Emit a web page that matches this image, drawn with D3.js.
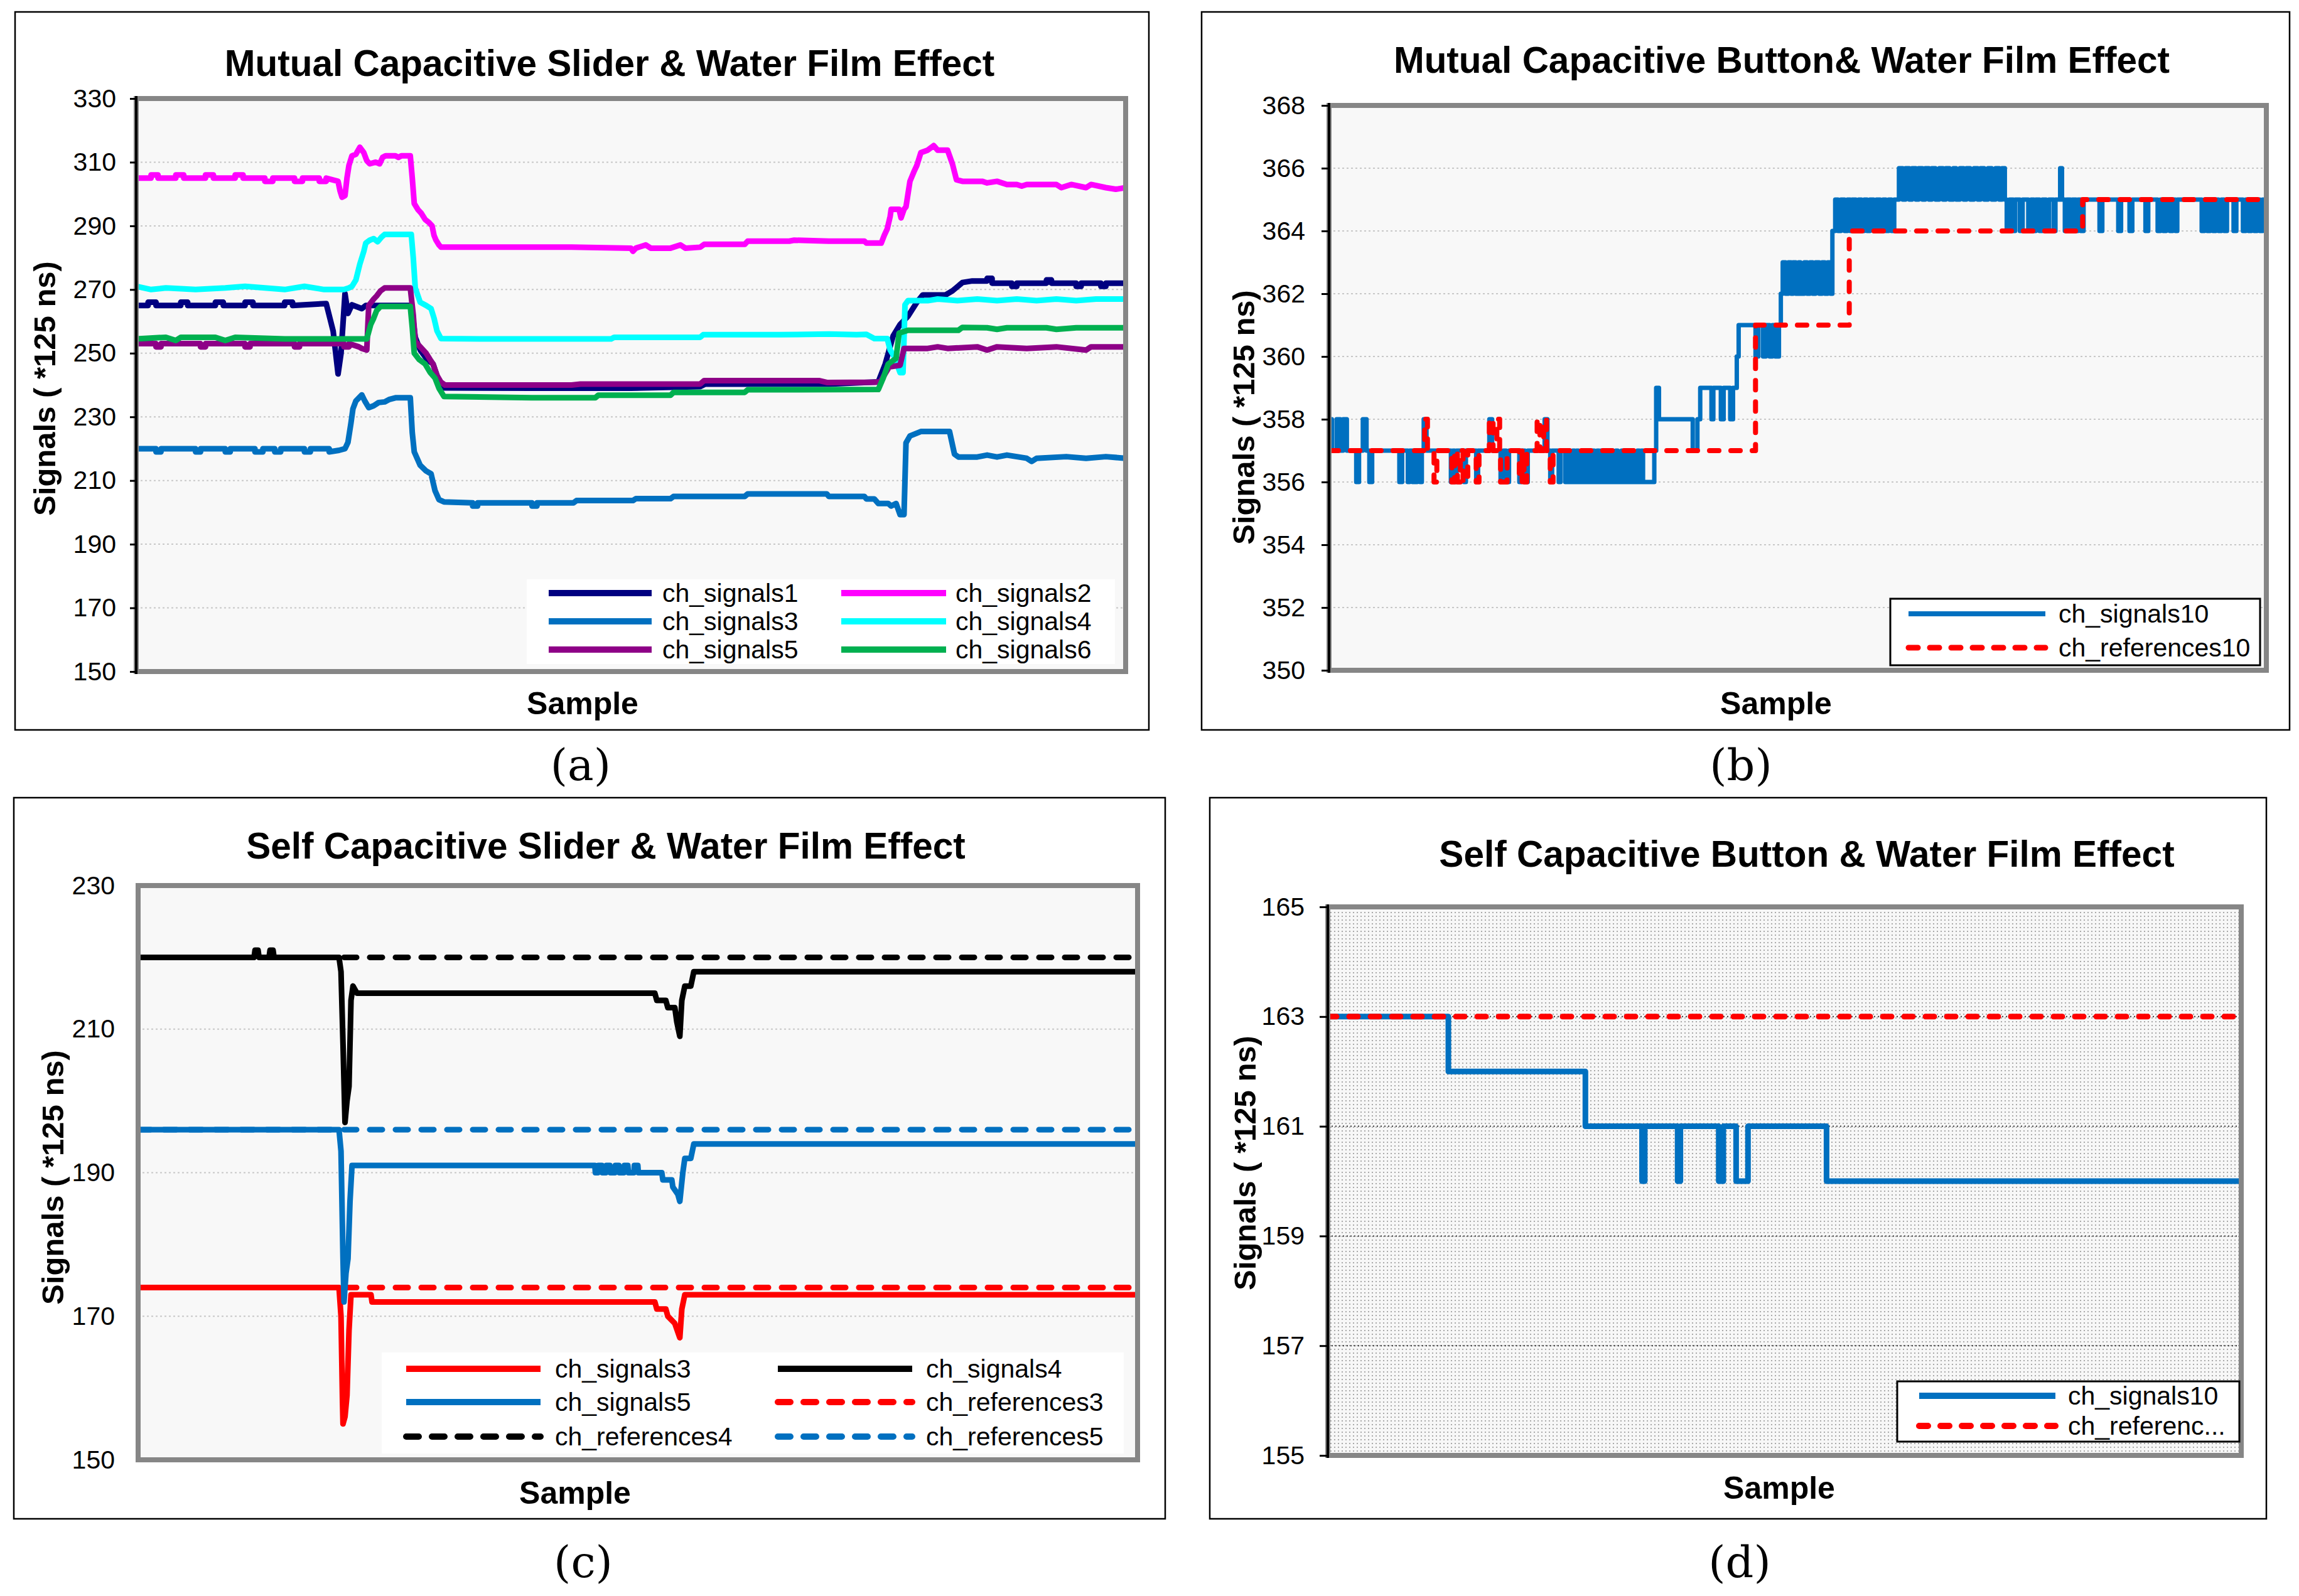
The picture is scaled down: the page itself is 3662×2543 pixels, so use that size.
<!DOCTYPE html>
<html><head><meta charset="utf-8">
<script src="https://cdn.jsdelivr.net/npm/d3@7/dist/d3.min.js"></script>
<style>body{margin:0;background:#fff}svg{display:block}</style>
</head><body>
<svg id="chart" width="3662" height="2543"></svg>
<script>
// ---------- Panel (a): Mutual Capacitive Slider ----------
const a_ticks = [150,170,190,210,230,250,270,290,310,330];
const a_signals1 = [[0,265],[12,265],[12,266],[20,266],[20,265],[45,265],[45,266],[52,266],[52,265],[80,265],[80,266],[88,266],[88,265],[110,265],[110,266],[118,266],[118,265],[150,265],[150,266],[158,266],[158,265],[192,265.6],[199,257],[204,243.5],[207,250],[211,268.7],[214,262.5],[218,265.2],[228,264],[232,265],[265,265],[278,265],[282,255],[287,251],[294,248],[300,246.6],[305,242],[308,239.1],[400,239],[500,239],[570,239.5],[575,240.3],[640,240.3],[700,240.3],[750,241],[757,246.6],[765,255.4],[772,259],[780,261.6],[789,266],[795,268.3],[818,268.3],[825,269.6],[835,272.2],[845,272.7],[860,272.7],[860,273.5],[865,273.5],[865,272],[885,272],[885,271],[890,271],[890,272],[920,272],[920,273],[925,273],[925,272],[950,272],[950,271],[955,271],[955,272],[975,272],[975,271],[980,271],[980,272],[1000,272]];
const a_signals2 = [[0,305],[15,305],[15,306],[22,306],[22,305],[40,305],[40,306],[48,306],[48,305],[70,305],[70,306],[78,306],[78,305],[100,305],[100,306],[108,306],[108,305],[130,305],[130,304],[138,304],[138,305],[160,305],[160,304],[168,304],[168,305],[185,305],[185,304],[192,304],[192,305],[204,304],[206,301],[208,299],[211,299.5],[213,305],[215,309],[218,312],[222,312.5],[226,314.7],[230,313],[233,310.5],[236,309.5],[242,310],[246,309.5],[249,311.5],[252,312],[262,312],[265,311.5],[268,312],[277,312],[279,305],[281,297],[285,295],[288,294],[292,292],[296,291],[299,290],[301,287],[303,285.5],[306,284],[308,283.3],[440,283.3],[500,283],[502,282],[505,283],[515,284],[520,283],[540,283],[550,284],[555,283],[570,283.3],[574,284.2],[615,284.2],[618,285.2],[660,285.2],[665,285.5],[700,285.2],[736,285.2],[738,284.6],[753,284.6],[756,287],[759,289],[762,293],[763,295.2],[771,295.2],[773,292.5],[776,295.2],[778,296],[782,304],[786,307],[789,309],[793,313],[800,313.8],[806,315.2],[810,313.8],[820,313.8],[825,309.4],[829,304.5],[835,304],[855,304],[860,303.5],[870,304],[880,303],[890,303],[895,302.5],[900,303],[930,303],[935,302],[945,303],[960,302],[965,303],[980,302],[990,301.5],[1000,302]];
const a_signals3 = [[0,220],[20,220],[20,219],[25,219],[25,220],[60,220],[60,219],[65,219],[65,220],[90,220],[90,219],[95,219],[95,220],[120,220],[120,219],[128,219],[128,220],[140,220],[140,219],[146,219],[146,220],[170,220],[170,219],[176,219],[176,220],[195,220],[195,219],[205,219.5],[211,220],[214,222],[217,228],[219,232.5],[222,235],[228,236.9],[231,235],[235,232.9],[240,233.5],[245,234.5],[251,234.7],[256,235.5],[262,236],[277,236],[279,225],[281,219],[287,214.8],[293,213],[298,212.1],[302,206.8],[306,204],[311,203.3],[340,203],[340,202],[345,202],[345,203],[400,203],[400,202],[405,202],[405,203],[442,203],[445,203.7],[502,203.7],[505,204.3],[540,204.3],[543,205],[615,205],[618,205.8],[698,205.8],[700,205],[736,205],[738,204.2],[746,204.2],[750,202.8],[760,202.8],[763,202],[768,202.8],[772,199.3],[776,199.3],[778,221.8],[782,224],[793,225.4],[822,225.4],[827,218.3],[831,217.4],[850,217.4],[860,218],[870,217.4],[880,218],[900,217],[905,216],[910,217],[940,217.5],[960,217],[980,217.5],[1000,217]];
const a_signals4 = [[0,271],[15,270],[30,270.5],[60,270],[90,270.5],[110,271],[130,270.5],[150,270],[170,271],[190,270],[210,270],[215,270.5],[218,271],[222,273],[226,278],[230,282],[232,284.6],[236,285.5],[240,286],[244,285],[248,286.5],[251,287.3],[278,287.3],[280,280],[282,270.5],[287,266],[293,265],[298,264],[301,261],[304,257],[308,254.6],[350,254.5],[400,254.5],[480,254.5],[483,255],[570,255],[573,255.8],[650,255.8],[700,256],[728,255.8],[738,255.9],[746,254.6],[759,254.6],[762,251],[766,249],[772,243.9],[775,243.9],[777,265.2],[780,266.5],[800,266.5],[810,267],[830,266.5],[850,267],[870,266.5],[890,267],[910,266.5],[930,267],[950,266.5],[970,267],[1000,267]];
const a_signals5 = [[0,253],[20,253],[20,252],[25,252],[25,253],[65,253],[65,252],[70,252],[70,253],[110,253],[110,252],[115,252],[115,253],[160,253],[160,252],[165,252],[165,253],[210,253],[210,252],[215,252],[215,253],[225,252],[228,251.5],[233,251],[235,265],[240,267],[243,268],[247,269.6],[251,270.5],[277,270.5],[280,262],[282,253.7],[287,252],[293,250],[297,248],[300,246.6],[304,243],[308,240.9],[312,240],[440,240],[449,240.3],[570,240.3],[574,241.4],[690,241.4],[698,240.8],[746,240.9],[752,241],[761,245.7],[772,246.2],[776,251.5],[800,251.5],[810,252],[820,251.5],[850,252],[860,251],[870,252],[900,251.5],[930,252],[960,251],[965,252],[1000,252]];
const a_signals6 = [[0,254.5],[30,255],[40,254],[45,255],[80,255],[90,254],[100,255],[150,254.5],[200,254.5],[233,254.5],[237,259],[240,261],[243,263.4],[247,264.7],[277,264.7],[279,258],[281,250],[286,248],[292,246.6],[297,244],[302,242.2],[306,239],[311,236.4],[400,236],[464,236],[467,236.8],[540,236.8],[543,237.7],[615,237.7],[618,238.5],[750,238.6],[755,242.2],[760,246.6],[768,248.4],[771,256.3],[780,257.2],[831,257.2],[835,258.1],[860,258],[870,257.5],[880,258],[920,258],[930,257.5],[950,258],[1000,258]];

// ---------- Panel (b): Mutual Capacitive Button ----------
const b_ticks = [350,352,354,356,358,360,362,364,366,368];
const b_signals10 = [[0,358],[3,357],[8,358],[12,357],[15,358],[19,357],[29,356],[32,357],[36,358],[40,357],[43,356],[46,357],[75,356],[78,357],[84,356],[86,357],[89,356],[91,357],[92,356],[94,357],[97,356],[99,357],[101,358],[104,357],[130,356],[132,357],[134,356],[136,357],[144,356],[146,357],[157,356],[159,357],[171,358],[174,357],[183,356],[186,357],[189,356],[192,357],[203,356],[205,357],[209,356],[212,357],[230,358],[233,357],[236,356],[238,357],[245,356],[247,357],[252,356],[255,357],[257,356],[260,357],[262,356],[264,357],[266,356],[270,357],[272,356],[275,357],[277,356],[281,357],[283,356],[286,357],[288,356],[290,357],[292,356],[296,357],[298,356],[301,357],[303,356],[306,357],[308,356],[312,357],[314,356],[318,357],[320,356],[323,357],[325,356],[329,357],[331,356],[333,357],[335,356],[347,357],[349,359],[352,358],[388,357],[393,358],[396,359],[408,358],[410,359],[418,358],[421,359],[428,358],[431,359],[435,360],[437,361],[455,360],[458,361],[463,360],[466,361],[470,360],[473,361],[476,360],[480,361],[482,362],[484,363],[487,362],[490,363],[493,362],[495,363],[498,362],[501,363],[503,362],[507,363],[510,362],[513,363],[516,362],[519,363],[523,362],[526,363],[529,362],[532,363],[535,362],[537,364],[540,365],[543,364],[546,365],[550,364],[553,365],[556,364],[558,365],[562,364],[565,365],[568,364],[571,365],[574,364],[577,365],[581,364],[584,365],[588,364],[591,365],[594,364],[597,365],[600,364],[603,365],[608,366],[612,365],[615,366],[619,365],[622,366],[626,365],[629,366],[633,365],[636,366],[640,365],[643,366],[647,365],[651,366],[655,365],[658,366],[662,365],[666,366],[669,365],[673,366],[677,365],[680,366],[684,365],[688,366],[692,365],[695,366],[699,365],[703,366],[707,365],[711,366],[715,365],[718,366],[721,365],[723,364],[726,365],[730,364],[732,365],[737,364],[740,365],[746,364],[749,365],[752,364],[754,365],[758,364],[761,365],[765,364],[768,365],[773,364],[775,365],[780,366],[782,365],[785,364],[787,365],[791,364],[793,365],[797,364],[799,365],[802,364],[805,365],[822,364],[825,365],[842,364],[845,365],[854,364],[857,365],[871,364],[874,365],[884,364],[887,365],[890,364],[893,365],[897,364],[900,365],[903,364],[905,365],[931,364],[934,365],[937,364],[940,365],[943,364],[946,365],[949,364],[952,365],[955,364],[958,365],[965,364],[968,365],[975,364],[978,365],[981,364],[984,365],[987,364],[990,365],[993,364],[996,365],[1000,364]];
const b_references10 = [[0,357],[102,358],[105,357],[112,356],[115,357],[131,356],[134,357],[137,356],[140,357],[143,356],[148,357],[157,356],[160,357],[171,358],[175,357],[179,358],[182,357],[183,356],[190,357],[203,356],[206,357],[208,356],[211,357],[222,358],[225,357],[229,358],[232,357],[236,356],[239,357],[455,361],[555,364],[804,365],[1000,365]];

// ---------- Panel (c): Self Capacitive Slider ----------
const c_ticks = [150,170,190,210,230];
const c_signals3 = [[0,174],[201,174],[203,170],[204.5,158],[205,155],[207,156],[209,159],[211,168],[213,173],[215,173],[233,173],[234,172],[517,172],[519,171],[528,171],[530,170],[537,169],[542,167],[544,171],[547,173],[1000,173]];
const c_signals4 = [[0,220],[116,220],[117,221],[120,221],[121,220],[131,220],[132,221],[135,221],[136,220],[201,220],[203,218],[205,208],[207,197],[209,200],[211,202],[213,214],[215,216],[217,215.5],[219,215],[517,215],[519,214],[528,214],[530,213],[537,213],[539,211],[542,209],[544,214],[547,216],[553,216],[556,218],[1000,218]];
const c_signals5 = [[0,196],[201,196],[203,193],[205,178],[206,172],[208,176],[210,178],[212,186],[214,191],[457,191],[457.5,190],[460,190],[460.5,191],[464,191],[464.5,190],[468,190],[468.5,191],[472,191],[472.5,190],[477,190],[477.5,191],[481,191],[481.5,190],[486,190],[486.5,191],[490,191],[490.5,190],[496,190],[496.5,191],[500,191],[500.5,190],[524,190],[525,189],[534,189],[535,188],[540,187],[542,186],[545,190],[547,192],[553,192],[556,194],[1000,194]];
const c_references3 = [[0,174],[1000,174]];
const c_references4 = [[0,220],[1000,220]];
const c_references5 = [[0,196],[1000,196]];

// ---------- Panel (d): Self Capacitive Button ----------
const d_ticks = [155,157,159,161,163,165];
const d_signals10 = [[0,163],[132,162],[282,161],[344,160],[347,161],[383,160],[386,161],[428,160],[433,161],[447,160],[460,161],[546,160],[1000,160]];
const d_references10 = [[0,163],[1000,163]];

const svg = d3.select("#chart");
const defs = svg.append("defs");
const pat = defs.append("pattern").attr("id","dots").attr("patternUnits","userSpaceOnUse").attr("width",6).attr("height",6);
pat.append("rect").attr("width",6).attr("height",6).attr("fill","#f7f7f7");
pat.append("rect").attr("x",1).attr("y",1).attr("width",2).attr("height",2).attr("fill","#a9a9a9");

const SANS = "'Liberation Sans', Arial, sans-serif";

function panel(p, idx) {
  const g = svg.append("g");
  const [bx0,by0,bx1,by1] = p.box;
  g.append("rect").attr("x",bx0).attr("y",by0).attr("width",bx1-bx0).attr("height",by1-by0)
    .attr("fill","#fff").attr("stroke","#000").attr("stroke-width",2.5);
  const [px0,py0,px1,py1] = p.plot;
  const x = d3.scaleLinear().domain([0,1000]).range([px0,px1]);
  const y = d3.scaleLinear().domain([p.ticks[0], p.ticks[p.ticks.length-1]]).range([py1,py0]);
  g.append("rect").attr("x",px0).attr("y",py0).attr("width",px1-px0).attr("height",py1-py0).attr("fill",p.bg);
  g.append("g").selectAll("line").data(p.ticks.slice(1,-1)).join("line")
    .attr("x1",px0).attr("x2",px1).attr("y1",d=>y(d)).attr("y2",d=>y(d))
    .attr("stroke",p.gridColor).attr("stroke-width",2).attr("stroke-dasharray",p.gridDash);
  const cid = "clip"+idx;
  defs.append("clipPath").attr("id",cid).append("rect").attr("x",px0).attr("y",py0).attr("width",px1-px0).attr("height",py1-py0);
  const sg = g.append("g").attr("clip-path",`url(#${cid})`);
  p.series.forEach(s=>{
    const line = d3.line().x(d=>x(d[0])).y(d=>y(d[1])).curve(p.curve);
    sg.append("path").attr("d",line(s.data)).attr("fill","none").attr("stroke",s.color)
      .attr("stroke-width",s.width).attr("stroke-dasharray",s.dash||null)
      .attr("stroke-linecap",s.dash?"round":"butt").attr("stroke-linejoin","round");
  });
  g.append("rect").attr("x",px0).attr("y",py0).attr("width",px1-px0).attr("height",py1-py0)
    .attr("fill","none").attr("stroke","#868686").attr("stroke-width",8);
  const ax = d3.axisLeft(y).tickValues(p.ticks).tickSize(p.tickSize).tickPadding(p.tickPad).tickFormat(d3.format("d"));
  const ag = g.append("g").attr("transform",`translate(${px0},0)`).call(ax);
  ag.select(".domain").remove();
  ag.selectAll(".tick line").attr("stroke","#000").attr("stroke-width",3);
  ag.selectAll(".tick text").attr("font-family",SANS).attr("font-size",41).attr("fill","#000");
  if (p.axisLine) {
    g.append("line").attr("x1",px0).attr("x2",px0).attr("y1",py0-4).attr("y2",py1+4).attr("stroke","#000").attr("stroke-width",4);
  }
  g.append("text").attr("x",p.title[1]).attr("y",p.title[2]).attr("text-anchor","middle")
    .attr("font-family",SANS).attr("font-weight","bold").attr("font-size",58.5).text(p.title[0]);
  g.append("text").attr("transform",`translate(${p.ytitle[0]},${p.ytitle[1]}) rotate(-90)`)
    .attr("text-anchor","middle").attr("dominant-baseline","central")
    .attr("font-family",SANS).attr("font-weight","bold").attr("font-size",49).text("Signals ( *125 ns)");
  g.append("text").attr("x",p.xtitle[0]).attr("y",p.xtitle[1]).attr("text-anchor","middle")
    .attr("font-family",SANS).attr("font-weight","bold").attr("font-size",50).text("Sample");
  g.append("text").attr("x",p.label[1]).attr("y",p.label[2]).attr("text-anchor","middle")
    .attr("font-family","'DejaVu Serif','Liberation Serif',serif").attr("font-size",70).text(p.label[0]);
  const L = p.legend;
  g.append("rect").attr("x",L.box[0]).attr("y",L.box[1]).attr("width",L.box[2]-L.box[0]).attr("height",L.box[3]-L.box[1])
    .attr("fill","#fff").attr("stroke",L.border?"#000":"none").attr("stroke-width",3);
  L.items.forEach((it,i)=>{
    const col = i % L.cols, row = Math.floor(i / L.cols);
    const lx = L.lineX[col], ly = L.rows[row];
    const s = p.series[it];
    g.append("line").attr("x1",lx[0]).attr("x2",lx[1]).attr("y1",ly).attr("y2",ly)
      .attr("stroke",s.color).attr("stroke-width",s.width+1).attr("stroke-dasharray",s.dash||null)
      .attr("stroke-linecap",s.dash?"round":"butt");
    g.append("text").attr("x",L.textX[col]).attr("y",ly).attr("dominant-baseline","central")
      .attr("font-family",SANS).attr("font-size",41).text(L.names ? L.names[i] : s.name);
  });
}

panel({
  box:[24,19,1830,1163], plot:[217,157,1793,1070], ticks:a_ticks, bg:"#f8f8f8",
  gridColor:"#c8c8c8", gridDash:"3,4", curve:d3.curveLinear, tickSize:10, tickPad:22, axisLine:true,
  title:["Mutual Capacitive Slider & Water Film Effect",971,121], ytitle:[71,619], xtitle:[928,1138], label:["(a)",925,1243],
  series:[
    {name:"ch_signals1",data:a_signals1,color:"#000080",width:9},
    {name:"ch_signals2",data:a_signals2,color:"#ff00ff",width:9},
    {name:"ch_signals3",data:a_signals3,color:"#0070c0",width:9},
    {name:"ch_signals4",data:a_signals4,color:"#00ffff",width:9},
    {name:"ch_signals5",data:a_signals5,color:"#8e0087",width:9},
    {name:"ch_signals6",data:a_signals6,color:"#00b050",width:9}
  ],
  legend:{box:[839,923,1776,1058],border:false,cols:2,lineX:[[874,1038],[1340,1507]],textX:[1055,1522],rows:[945,990,1035],items:[0,1,2,3,4,5]}
},0);

panel({
  box:[1914,19,3647,1163], plot:[2117,168,3610,1068], ticks:b_ticks, bg:"#f8f8f8",
  gridColor:"#c8c8c8", gridDash:"3,4", curve:d3.curveStepAfter, tickSize:12, tickPad:26, axisLine:true,
  title:["Mutual Capacitive Button& Water Film Effect",2838,116], ytitle:[1981,665], xtitle:[2829,1138], label:["(b)",2773,1243],
  series:[
    {name:"ch_signals10",data:b_signals10,color:"#0070c0",width:7},
    {name:"ch_references10",data:b_references10,color:"#ff0000",width:8,dash:"15,19"}
  ],
  legend:{box:[3011,954,3600,1060],border:true,cols:1,lineX:[[3040,3258]],textX:[3279],rows:[978,1032],items:[0,1]}
},1);

panel({
  box:[22,1271,1856,2420], plot:[220,1411,1812,2326], ticks:c_ticks, bg:"#f8f8f8",
  gridColor:"#c8c8c8", gridDash:"3,4", curve:d3.curveLinear, tickSize:0, tickPad:37, axisLine:false,
  title:["Self Capacitive Slider & Water Film Effect",965,1368], ytitle:[84,1876], xtitle:[916,2396], label:["(c)",929,2513],
  series:[
    {name:"ch_references3",data:c_references3,color:"#ff0000",width:9,dash:"20,21"},
    {name:"ch_references4",data:c_references4,color:"#000000",width:9,dash:"20,21"},
    {name:"ch_references5",data:c_references5,color:"#0070c0",width:9,dash:"20,21"},
    {name:"ch_signals3",data:c_signals3,color:"#ff0000",width:9},
    {name:"ch_signals4",data:c_signals4,color:"#000000",width:9},
    {name:"ch_signals5",data:c_signals5,color:"#0070c0",width:9}
  ],
  legend:{box:[608,2155,1790,2316],border:false,cols:2,lineX:[[647,861],[1239,1453]],textX:[884,1475],rows:[2181,2234,2289],items:[3,4,5,0,1,2]}
},2);

panel({
  box:[1927,1271,3610,2420], plot:[2115,1445,3570,2319], ticks:d_ticks, bg:"url(#dots)",
  gridColor:"#3a3a3a", gridDash:"2,4", curve:d3.curveStepAfter, tickSize:13, tickPad:24, axisLine:true,
  title:["Self Capacitive Button & Water Film Effect",2878,1381], ytitle:[1983,1853], xtitle:[2834,2388], label:["(d)",2771,2513],
  series:[
    {name:"ch_signals10",data:d_signals10,color:"#0070c0",width:9},
    {name:"ch_references10",data:d_references10,color:"#ff0000",width:9,dash:"14,20"}
  ],
  legend:{box:[3022,2201,3567,2297],border:true,cols:1,lineX:[[3057,3274]],textX:[3294],rows:[2224,2272],items:[0,1],names:["ch_signals10","ch_referenc..."]}
},3);
</script>
</body></html>
